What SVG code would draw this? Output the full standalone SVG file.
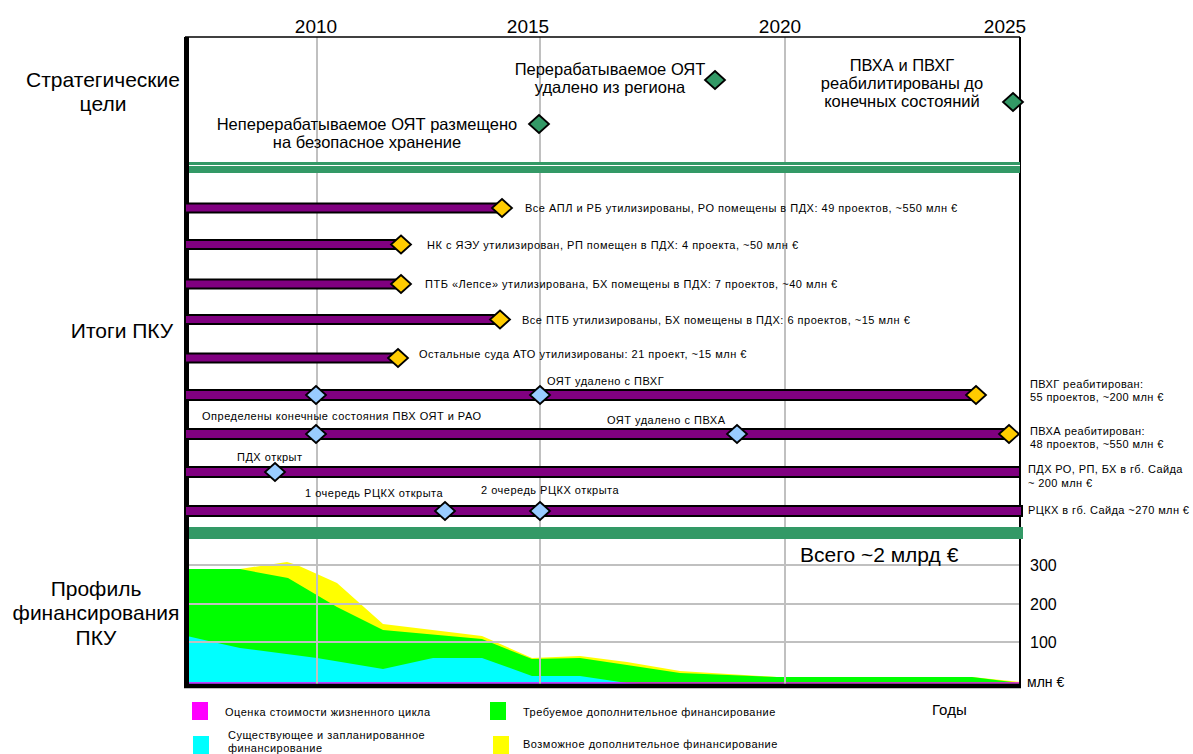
<svg xmlns="http://www.w3.org/2000/svg" width="1193" height="754" viewBox="0 0 1193 754">
<style>
text{font-family:"Liberation Sans",Arial,sans-serif;fill:#000}
.yr{font-size:19px;text-anchor:middle}
.sec{font-size:21px;text-anchor:middle}
.goal{font-size:16.5px;text-anchor:middle}
.lbl{font-size:11px;letter-spacing:0.5px}
.rl{font-size:11px;letter-spacing:0.4px}
.leg{font-size:11px;letter-spacing:0.5px}
.ax{font-size:16px}
.grid{stroke:#c0c0c0;stroke-width:2;fill:none}
.bar{fill:#800080;stroke:#000;stroke-width:2}
.dy{fill:#ffcc00;stroke:#000;stroke-width:1.8}
.db{fill:#99ccff;stroke:#000;stroke-width:1.8}
.dg{fill:#339966;stroke:#000;stroke-width:1.8}
</style>
<defs>
<path id="dm" d="M0,-9 L10,0 L0,9 L-10,0 Z"/>
</defs>
<rect width="1193" height="754" fill="#fff"/>

<!-- funding chart areas -->
<g id="chart-areas">
<polygon fill="#ffff00" points="187,684 187,569 240,569 287,562 297,565 337,583 383,624 482,636 532,658 580,656 627,662 680,671 760,676 777,677 972,677 1020,682 1020,684"/>
<polygon fill="#00ff00" points="187,684 187,569 240,569 288,578 337,607 383,630 482,639 492,643 532,659 580,658 627,665 680,673 777,677 972,677 1020,683 1020,684"/>
<polygon fill="#00ffff" points="187,684 187,636 213,642 240,648 317,658 383,669 433,658 482,658 532,676 580,676 627,683 640,684"/>
<line x1="187" y1="683" x2="1020" y2="683" stroke="#ff00ff" stroke-width="1.5"/>
</g>

<!-- grid -->
<g id="grid">
<line class="grid" x1="317" y1="37" x2="317" y2="688"/>
<line class="grid" x1="540" y1="37" x2="540" y2="688"/>
<line class="grid" x1="785" y1="37" x2="785" y2="688"/>
<line class="grid" x1="187" y1="565" x2="1020" y2="565"/>
<line class="grid" x1="187" y1="604" x2="1020" y2="604"/>
<line class="grid" x1="187" y1="642" x2="1020" y2="642"/>
</g>

<!-- frame -->
<g id="frame">
<line x1="185" y1="37" x2="1020" y2="37" stroke="#000" stroke-width="1.5"/>
<line x1="1020" y1="37" x2="1020" y2="688" stroke="#000" stroke-width="2"/>
<rect x="187" y="162" width="833" height="11" fill="#339966"/>
<line x1="187" y1="165.5" x2="1020" y2="165.5" stroke="#fff" stroke-width="1"/>
<rect x="187" y="527" width="836" height="12" fill="#339966"/>
<line x1="184" y1="686" x2="1021" y2="686" stroke="#000" stroke-width="4.5"/>
<line x1="186.5" y1="37" x2="186.5" y2="688" stroke="#000" stroke-width="5"/>
</g>

<!-- year axis -->
<g id="years">
<text class="yr" x="316" y="33">2010</text>
<text class="yr" x="528" y="33">2015</text>
<text class="yr" x="780" y="33">2020</text>
<text class="yr" x="1005" y="33">2025</text>
</g>

<!-- section labels -->
<g id="sections">
<text class="sec" x="103" y="87">Стратегические</text>
<text class="sec" x="103" y="111">цели</text>
<text class="sec" x="122" y="338">Итоги ПКУ</text>
<text class="sec" x="96" y="596">Профиль</text>
<text class="sec" x="96" y="620">финансирования</text>
<text class="sec" x="96" y="645">ПКУ</text>
</g>

<!-- strategic goals -->
<g id="goal1">
<use href="#dm" class="dg" x="539" y="124"/>
<text class="goal" x="367" y="130">Неперерабатываемое ОЯТ размещено</text>
<text class="goal" x="367" y="148">на безопасное хранение</text>
</g>
<g id="goal2">
<use href="#dm" class="dg" x="715" y="80"/>
<text class="goal" x="610" y="75">Перерабатываемое ОЯТ</text>
<text class="goal" x="610" y="93">удалено из региона</text>
</g>
<g id="goal3">
<use href="#dm" class="dg" x="1013" y="102"/>
<text class="goal" x="902" y="71">ПВХА и ПВХГ</text>
<text class="goal" x="902" y="89">реабилитированы до</text>
<text class="goal" x="902" y="107">конечных состояний</text>
</g>

<!-- result rows -->
<g id="row1">
<rect class="bar" x="185" y="203.5" width="317" height="9"/>
<use href="#dm" class="dy" x="502" y="208"/>
<text class="lbl" x="525" y="212">Все АПЛ и РБ утилизированы, РО помещены в ПДХ: 49 проектов, ~550 млн €</text>
</g>
<g id="row2">
<rect class="bar" x="185" y="240" width="216" height="9"/>
<use href="#dm" class="dy" x="401" y="244.5"/>
<text class="lbl" x="427" y="248.5">НК с ЯЭУ утилизирован, РП помещен в ПДХ: 4 проекта, ~50 млн €</text>
</g>
<g id="row3">
<rect class="bar" x="185" y="279.5" width="216" height="9"/>
<use href="#dm" class="dy" x="401" y="284"/>
<text class="lbl" x="425" y="288">ПТБ «Лепсе» утилизирована, БХ помещены в ПДХ: 7 проектов, ~40 млн €</text>
</g>
<g id="row4">
<rect class="bar" x="185" y="315" width="315" height="9"/>
<use href="#dm" class="dy" x="500" y="319.5"/>
<text class="lbl" x="522" y="323.5">Все ПТБ утилизированы, БХ помещены в ПДХ: 6 проектов, ~15 млн €</text>
</g>
<g id="row5">
<rect class="bar" x="185" y="353.5" width="213" height="9"/>
<use href="#dm" class="dy" x="398" y="358"/>
<text class="lbl" x="419" y="358">Остальные суда АТО утилизированы: 21 проект, ~15 млн €</text>
</g>
<g id="row6">
<rect class="bar" x="185" y="390" width="791" height="10"/>
<use href="#dm" class="db" x="316" y="395"/>
<use href="#dm" class="db" x="540" y="395"/>
<use href="#dm" class="dy" x="976" y="395"/>
<text class="lbl" x="547" y="385">ОЯТ удалено с ПВХГ</text>
<text class="rl" x="1030" y="388">ПВХГ реабитирован:</text>
<text class="rl" x="1030" y="401">55 проектов, ~200 млн €</text>
</g>
<g id="row7">
<rect class="bar" x="185" y="429" width="827" height="10"/>
<use href="#dm" class="db" x="316" y="434"/>
<use href="#dm" class="db" x="737" y="434"/>
<use href="#dm" class="dy" x="1009" y="434"/>
<text class="lbl" x="202" y="420">Определены конечные состояния ПВХ ОЯТ и РАО</text>
<text class="lbl" x="607" y="424">ОЯТ удалено с ПВХА</text>
<text class="rl" x="1030" y="435">ПВХА реабитирован:</text>
<text class="rl" x="1030" y="448">48 проектов, ~550 млн €</text>
</g>
<g id="row8">
<rect class="bar" x="185" y="467" width="835" height="10"/>
<use href="#dm" class="db" x="275" y="472"/>
<text class="lbl" x="237" y="461">ПДХ открыт</text>
<text class="rl" x="1028" y="473">ПДХ РО, РП, БХ в гб. Сайда</text>
<text class="rl" x="1028" y="487">~ 200 млн €</text>
</g>
<g id="row9">
<rect class="bar" x="185" y="506" width="837" height="10"/>
<use href="#dm" class="db" x="445" y="511"/>
<use href="#dm" class="db" x="540" y="511"/>
<text class="lbl" x="305" y="497">1 очередь РЦКХ открыта</text>
<text class="lbl" x="481" y="494">2 очередь РЦКХ открыта</text>
<text class="rl" x="1028" y="514">РЦКХ в гб. Сайда ~270 млн €</text>
</g>

<!-- chart axis labels -->
<g id="chart-labels">
<text x="800" y="562" style="font-size:21px">Всего ~2 млрд €</text>
<text class="ax" x="1030" y="571">300</text>
<text class="ax" x="1030" y="610">200</text>
<text class="ax" x="1030" y="648">100</text>
<text class="ax" x="1027" y="687" style="font-size:14px">млн €</text>
<text x="932" y="715" style="font-size:15px">Годы</text>
</g>

<!-- legend -->
<g id="legend">
<rect x="192" y="702" width="16" height="18" fill="#ff00ff"/>
<text class="leg" x="225" y="716">Оценка стоимости жизненного цикла</text>
<rect x="490" y="702" width="16" height="18" fill="#00ff00"/>
<text class="leg" x="523" y="716">Требуемое дополнительное финансирование</text>
<rect x="193" y="736" width="16" height="18" fill="#00ffff"/>
<text class="leg" x="228" y="739">Существующее и запланированное</text>
<text class="leg" x="228" y="752">финансирование</text>
<rect x="493" y="736" width="16" height="18" fill="#ffff00"/>
<text class="leg" x="523" y="748">Возможное дополнительное финансирование</text>
</g>
</svg>
